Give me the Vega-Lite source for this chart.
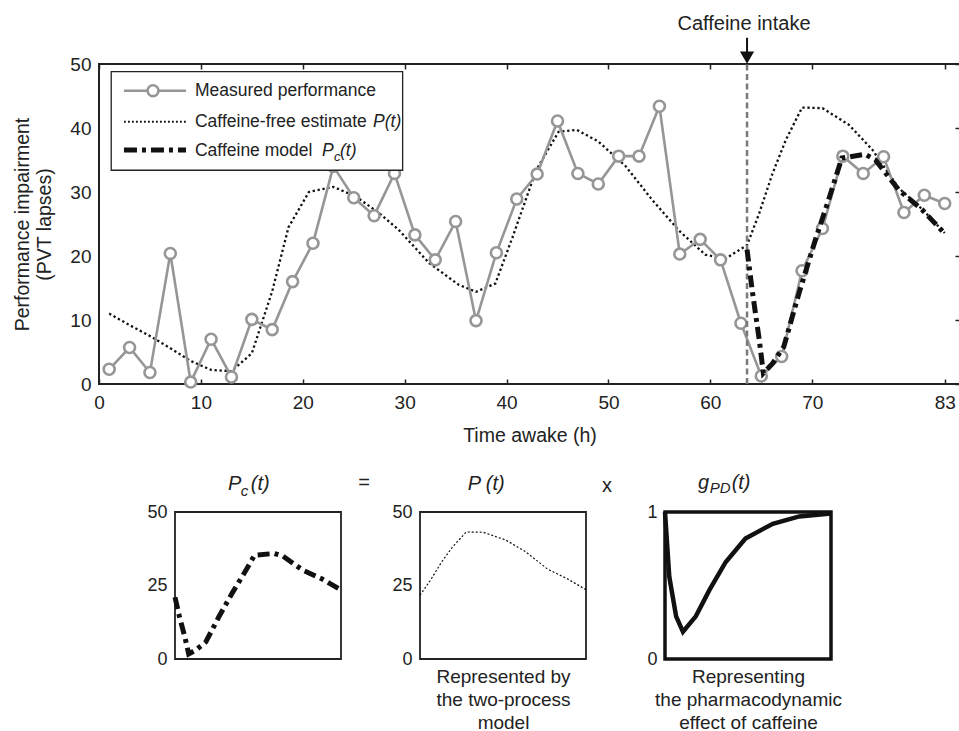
{
  "$schema": "https://vega.github.io/schema/vega-lite/v6.json",
  "padding": {"left": 11, "top": 12, "right": 0, "bottom": 0},
  "config": {
    "font": "Liberation Sans",
    "view": {"stroke": "#222", "strokeWidth": 1.8},
    "axis": {"labelFont": "Liberation Sans", "labelColor": "#222", "titleFont": "Liberation Sans", "titleColor": "#222", "titleFontWeight": "normal", "grid": false, "tickColor": "#222", "tickWidth": 1.5, "labelFlush": false},
    "text": {"font": "Liberation Sans", "color": "#222"}
  },
  "datasets": {
    "measured": [
      {"t": 1, "v": 2.3}, {"t": 3, "v": 5.7}, {"t": 5, "v": 1.8}, {"t": 7, "v": 20.4}, {"t": 9, "v": 0.3},
      {"t": 11, "v": 7.0}, {"t": 13, "v": 1.1}, {"t": 15, "v": 10.1}, {"t": 17, "v": 8.5}, {"t": 19, "v": 16.0},
      {"t": 21, "v": 22.0}, {"t": 23, "v": 34.0}, {"t": 25, "v": 29.1}, {"t": 27, "v": 26.3}, {"t": 29, "v": 32.9},
      {"t": 31, "v": 23.3}, {"t": 33, "v": 19.4}, {"t": 35, "v": 25.4}, {"t": 37, "v": 9.9}, {"t": 39, "v": 20.5},
      {"t": 41, "v": 28.9}, {"t": 43, "v": 32.8}, {"t": 45, "v": 41.1}, {"t": 47, "v": 32.9}, {"t": 49, "v": 31.25},
      {"t": 51, "v": 35.6}, {"t": 53, "v": 35.6}, {"t": 55, "v": 43.4}, {"t": 57, "v": 20.3}, {"t": 59, "v": 22.6},
      {"t": 61, "v": 19.4}, {"t": 63, "v": 9.5}, {"t": 65, "v": 1.25}, {"t": 67, "v": 4.3}, {"t": 69, "v": 17.7},
      {"t": 71, "v": 24.3}, {"t": 73, "v": 35.6}, {"t": 75, "v": 32.9}, {"t": 77, "v": 35.5}, {"t": 79, "v": 26.8},
      {"t": 81, "v": 29.5}, {"t": 83, "v": 28.2}
    ],
    "pfree": [
      {"t": 1, "v": 11.0}, {"t": 3, "v": 9.2}, {"t": 5, "v": 7.5}, {"t": 7, "v": 5.6}, {"t": 9, "v": 3.6},
      {"t": 11, "v": 2.2}, {"t": 13, "v": 2.0}, {"t": 15, "v": 4.8}, {"t": 17, "v": 14.5}, {"t": 18.6, "v": 24.5},
      {"t": 20.6, "v": 30.0}, {"t": 23, "v": 30.8}, {"t": 25.2, "v": 29.3}, {"t": 27.5, "v": 26.7}, {"t": 29.4, "v": 24.1},
      {"t": 32.4, "v": 18.9}, {"t": 35.3, "v": 15.5}, {"t": 37, "v": 14.4}, {"t": 38.9, "v": 15.7}, {"t": 40.6, "v": 23.0},
      {"t": 42.9, "v": 33.4}, {"t": 45.1, "v": 39.4}, {"t": 46.9, "v": 39.7}, {"t": 49, "v": 37.9}, {"t": 51.7, "v": 34.0},
      {"t": 54.3, "v": 28.75}, {"t": 56.9, "v": 24.0}, {"t": 59.5, "v": 20.2}, {"t": 61.5, "v": 19.6}, {"t": 63.6, "v": 21.7},
      {"t": 64.8, "v": 26.7}, {"t": 66.1, "v": 32.9}, {"t": 67.4, "v": 38.1}, {"t": 69, "v": 43.2}, {"t": 71, "v": 43.1},
      {"t": 73.6, "v": 40.5}, {"t": 75.9, "v": 36.6}, {"t": 78.5, "v": 30.6}, {"t": 80.8, "v": 27.3}, {"t": 83, "v": 23.6}
    ],
    "model": [
      {"t": 63.6, "v": 21.0}, {"t": 64.1, "v": 14.7}, {"t": 64.8, "v": 6.9}, {"t": 65.2, "v": 1.7}, {"t": 66.1, "v": 3.2},
      {"t": 67.2, "v": 5.8}, {"t": 68.7, "v": 14.2}, {"t": 70.3, "v": 22.5}, {"t": 71.6, "v": 28.75}, {"t": 72.9, "v": 35.3},
      {"t": 75.2, "v": 35.9}, {"t": 76.2, "v": 35.0}, {"t": 78.5, "v": 30.3}, {"t": 80.8, "v": 27.2}, {"t": 83, "v": 23.5}
    ],
    "gpd": [
      {"t": 63.6, "v": 1.0}, {"t": 64.1, "v": 0.56}, {"t": 64.9, "v": 0.29}, {"t": 65.7, "v": 0.185}, {"t": 67.2, "v": 0.29},
      {"t": 68.8, "v": 0.47}, {"t": 70.7, "v": 0.66}, {"t": 73.0, "v": 0.82}, {"t": 76.2, "v": 0.92}, {"t": 79.3, "v": 0.97},
      {"t": 83, "v": 0.99}
    ]
  },
  "spacing": 128,
  "bounds": "flush",
  "vconcat": [
    {
      "width": 861,
      "height": 320,
      "view": {"stroke": "#222", "strokeWidth": 2},
      "resolve": {"axis": {"x": "independent", "y": "independent"}},
      "layer": [
        {
          "data": {"name": "pfree"},
          "mark": {"type": "line", "color": "#111", "strokeWidth": 2.3, "strokeDash": [2.3, 2.7]},
          "encoding": {
            "x": {"field": "t", "type": "quantitative", "scale": {"domain": [0, 84.5], "nice": false},
                  "axis": {"orient": "bottom", "values": [0, 10, 20, 30, 40, 50, 60, 70, 83], "domain": false, "tickSize": -5, "labelPadding": 14, "labelFontSize": 19, "title": "Time awake (h)", "titleFontSize": 19.5, "titlePadding": 14}},
            "y": {"field": "v", "type": "quantitative", "scale": {"domain": [0, 50], "nice": false},
                  "axis": {"orient": "left", "values": [0, 10, 20, 30, 40, 50], "domain": false, "ticks": false, "labelPadding": 8, "labelFontSize": 19, "title": ["Performance impairment", "(PVT lapses)"], "titleFontSize": 19.5, "titleLineHeight": 22, "titlePadding": 15}}
          }
        },
        {
          "data": {"name": "measured"},
          "mark": {"type": "line", "color": "#969696", "strokeWidth": 2.6},
          "encoding": {
            "x": {"field": "t", "type": "quantitative", "scale": {"domain": [0, 84.5], "nice": false},
                  "axis": {"orient": "top", "values": [0, 10, 20, 30, 40, 50, 60, 70, 83], "domain": false, "labels": false, "tickSize": -5, "title": null}},
            "y": {"field": "v", "type": "quantitative", "scale": {"domain": [0, 50], "nice": false},
                  "axis": {"orient": "right", "values": [0, 10, 20, 30, 40, 50], "domain": false, "labels": false, "tickSize": -5, "title": null}}
          }
        },
        {
          "data": {"name": "measured"},
          "mark": {"type": "point", "shape": "circle", "filled": true, "fill": "white", "stroke": "#969696", "strokeWidth": 2.6, "size": 120, "opacity": 1},
          "encoding": {
            "x": {"field": "t", "type": "quantitative", "scale": {"domain": [0, 84.5], "nice": false}, "axis": null},
            "y": {"field": "v", "type": "quantitative", "scale": {"domain": [0, 50], "nice": false}, "axis": null}
          }
        },
        {
          "data": {"values": [{}]},
          "mark": {"type": "rule", "color": "#7a7a7a", "strokeWidth": 2.5, "strokeDash": [6, 3.5]},
          "encoding": {
            "x": {"datum": 63.6, "type": "quantitative", "scale": {"domain": [0, 84.5], "nice": false}, "axis": null},
            "y": {"datum": 0, "type": "quantitative", "scale": {"domain": [0, 50], "nice": false}, "axis": null},
            "y2": {"datum": 50}
          }
        },
        {
          "data": {"name": "model"},
          "mark": {"type": "line", "color": "#111", "strokeWidth": 5, "strokeDash": [12, 5, 4, 5]},
          "encoding": {
            "x": {"field": "t", "type": "quantitative", "scale": {"domain": [0, 84.5], "nice": false}, "axis": null},
            "y": {"field": "v", "type": "quantitative", "scale": {"domain": [0, 50], "nice": false}, "axis": null}
          }
        },
        {
          "data": {"values": [{}]},
          "mark": {"type": "rule", "color": "#111", "strokeWidth": 2},
          "encoding": {
            "x": {"datum": 63.6, "type": "quantitative", "scale": {"domain": [0, 84.5], "nice": false}, "axis": null},
            "y": {"datum": 54.1, "type": "quantitative", "scale": {"domain": [0, 50], "nice": false}, "axis": null},
            "y2": {"datum": 51.5}
          }
        },
        {
          "data": {"values": [{}]},
          "mark": {"type": "point", "shape": "triangle-down", "filled": true, "color": "#111", "size": 200, "opacity": 1},
          "encoding": {
            "x": {"datum": 63.6, "type": "quantitative", "scale": {"domain": [0, 84.5], "nice": false}, "axis": null},
            "y": {"datum": 51.0, "type": "quantitative", "scale": {"domain": [0, 50], "nice": false}, "axis": null}
          }
        },
        {
          "data": {"values": [{}]},
          "mark": {"type": "text", "text": "Caffeine intake", "fontSize": 20, "align": "center", "baseline": "alphabetic"},
          "encoding": {
            "x": {"datum": 63.3, "type": "quantitative", "scale": {"domain": [0, 84.5], "nice": false}, "axis": null},
            "y": {"datum": 55.39, "type": "quantitative", "scale": {"domain": [0, 50], "nice": false}, "axis": null}
          }
        },
        {
          "data": {"values": [{}]},
          "mark": {"type": "rect", "fill": "white", "stroke": "#222", "strokeWidth": 1.3},
          "encoding": {
            "x": {"datum": 1.2, "type": "quantitative", "scale": {"domain": [0, 84.5], "nice": false}, "axis": null},
            "x2": {"datum": 29.8},
            "y": {"datum": 48.8, "type": "quantitative", "scale": {"domain": [0, 50], "nice": false}, "axis": null},
            "y2": {"datum": 33.4}
          }
        },
        {
          "data": {"values": [{}]},
          "mark": {"type": "rule", "color": "#969696", "strokeWidth": 2.6},
          "encoding": {
            "x": {"datum": 2.45, "type": "quantitative", "scale": {"domain": [0, 84.5], "nice": false}, "axis": null},
            "x2": {"datum": 8.54},
            "y": {"datum": 45.83, "type": "quantitative", "scale": {"domain": [0, 50], "nice": false}, "axis": null}
          }
        },
        {
          "data": {"values": [{}]},
          "mark": {"type": "point", "shape": "circle", "filled": true, "fill": "white", "stroke": "#969696", "strokeWidth": 2.6, "size": 120, "opacity": 1},
          "encoding": {
            "x": {"datum": 5.3, "type": "quantitative", "scale": {"domain": [0, 84.5], "nice": false}, "axis": null},
            "y": {"datum": 45.83, "type": "quantitative", "scale": {"domain": [0, 50], "nice": false}, "axis": null}
          }
        },
        {
          "data": {"values": [{}]},
          "mark": {"type": "rule", "color": "#111", "strokeWidth": 1.8, "strokeDash": [1.8, 2.2]},
          "encoding": {
            "x": {"datum": 2.45, "type": "quantitative", "scale": {"domain": [0, 84.5], "nice": false}, "axis": null},
            "x2": {"datum": 8.54},
            "y": {"datum": 40.98, "type": "quantitative", "scale": {"domain": [0, 50], "nice": false}, "axis": null}
          }
        },
        {
          "data": {"values": [{}]},
          "mark": {"type": "rule", "color": "#111", "strokeWidth": 5, "strokeDash": [13, 5, 4, 5]},
          "encoding": {
            "x": {"datum": 2.45, "type": "quantitative", "scale": {"domain": [0, 84.5], "nice": false}, "axis": null},
            "x2": {"datum": 8.54},
            "y": {"datum": 36.56, "type": "quantitative", "scale": {"domain": [0, 50], "nice": false}, "axis": null}
          }
        },
        {
          "data": {"values": [{}]},
          "mark": {"type": "text", "text": "Measured performance", "fontSize": 17.5, "align": "left", "baseline": "alphabetic"},
          "encoding": {
            "x": {"datum": 9.42, "type": "quantitative", "scale": {"domain": [0, 84.5], "nice": false}, "axis": null},
            "y": {"datum": 45.0, "type": "quantitative", "scale": {"domain": [0, 50], "nice": false}, "axis": null}
          }
        },
        {
          "data": {"values": [{}]},
          "mark": {"type": "text", "text": "Caffeine-free estimate", "fontSize": 17.5, "align": "left", "baseline": "alphabetic"},
          "encoding": {
            "x": {"datum": 9.42, "type": "quantitative", "scale": {"domain": [0, 84.5], "nice": false}, "axis": null},
            "y": {"datum": 40.08, "type": "quantitative", "scale": {"domain": [0, 50], "nice": false}, "axis": null}
          }
        },
        {
          "data": {"values": [{}]},
          "mark": {"type": "text", "text": "P(t)", "fontSize": 17.5, "fontStyle": "italic", "align": "left", "baseline": "alphabetic"},
          "encoding": {
            "x": {"datum": 26.9, "type": "quantitative", "scale": {"domain": [0, 84.5], "nice": false}, "axis": null},
            "y": {"datum": 40.08, "type": "quantitative", "scale": {"domain": [0, 50], "nice": false}, "axis": null}
          }
        },
        {
          "data": {"values": [{}]},
          "mark": {"type": "text", "text": "Caffeine model", "fontSize": 17.5, "align": "left", "baseline": "alphabetic"},
          "encoding": {
            "x": {"datum": 9.42, "type": "quantitative", "scale": {"domain": [0, 84.5], "nice": false}, "axis": null},
            "y": {"datum": 35.6, "type": "quantitative", "scale": {"domain": [0, 50], "nice": false}, "axis": null}
          }
        },
        {
          "data": {"values": [{}]},
          "mark": {"type": "text", "text": "P", "fontSize": 17.5, "fontStyle": "italic", "align": "left", "baseline": "alphabetic"},
          "encoding": {
            "x": {"datum": 21.88, "type": "quantitative", "scale": {"domain": [0, 84.5], "nice": false}, "axis": null},
            "y": {"datum": 35.6, "type": "quantitative", "scale": {"domain": [0, 50], "nice": false}, "axis": null}
          }
        },
        {
          "data": {"values": [{}]},
          "mark": {"type": "text", "text": "c", "fontSize": 13, "fontStyle": "italic", "align": "left", "baseline": "alphabetic"},
          "encoding": {
            "x": {"datum": 23.06, "type": "quantitative", "scale": {"domain": [0, 84.5], "nice": false}, "axis": null},
            "y": {"datum": 34.8, "type": "quantitative", "scale": {"domain": [0, 50], "nice": false}, "axis": null}
          }
        },
        {
          "data": {"values": [{}]},
          "mark": {"type": "text", "text": "(t)", "fontSize": 17.5, "fontStyle": "italic", "align": "left", "baseline": "alphabetic"},
          "encoding": {
            "x": {"datum": 23.65, "type": "quantitative", "scale": {"domain": [0, 84.5], "nice": false}, "axis": null},
            "y": {"datum": 35.6, "type": "quantitative", "scale": {"domain": [0, 50], "nice": false}, "axis": null}
          }
        }
      ]
    },
    {
      "spacing": 0,
      "bounds": "flush",
      "hconcat": [
        {
          "width": 76,
          "height": 147,
          "view": {"stroke": null},
          "data": {"values": [{}]},
          "mark": {"type": "text", "text": ""},
          "encoding": {}
        },
        {
          "spacing": 79,
          "bounds": "flush",
          "hconcat": [
            {
              "width": 166,
              "height": 147,
              "view": {"stroke": "#222", "strokeWidth": 1.8},
              "resolve": {"axis": {"x": "independent", "y": "independent"}},
              "layer": [
                {
                  "data": {"name": "model"},
                  "mark": {"type": "line", "color": "#111", "strokeWidth": 5, "strokeDash": [12, 5, 4, 5]},
                  "encoding": {
                    "x": {"field": "t", "type": "quantitative", "scale": {"domain": [63.6, 83], "nice": false}, "axis": null},
                    "y": {"field": "v", "type": "quantitative", "scale": {"domain": [0, 50], "nice": false},
                          "axis": {"values": [0, 25, 50], "ticks": false, "domain": false, "labelPadding": 8, "labelFontSize": 18, "title": null}}
                  }
                },
                {
                  "data": {"values": [{}]},
                  "mark": {"type": "text", "text": "P", "fontSize": 20, "fontStyle": "italic", "align": "left", "baseline": "alphabetic"},
                  "encoding": {
                    "x": {"datum": 69.79, "type": "quantitative", "scale": {"domain": [63.6, 83], "nice": false}, "axis": null},
                    "y": {"datum": 57.5, "type": "quantitative", "scale": {"domain": [0, 50], "nice": false}, "axis": null}
                  }
                },
                {
                  "data": {"values": [{}]},
                  "mark": {"type": "text", "text": "c", "fontSize": 15, "fontStyle": "italic", "align": "left", "baseline": "alphabetic"},
                  "encoding": {
                    "x": {"datum": 71.28, "type": "quantitative", "scale": {"domain": [63.6, 83], "nice": false}, "axis": null},
                    "y": {"datum": 55.44, "type": "quantitative", "scale": {"domain": [0, 50], "nice": false}, "axis": null}
                  }
                },
                {
                  "data": {"values": [{}]},
                  "mark": {"type": "text", "text": "(t)", "fontSize": 20, "fontStyle": "italic", "align": "left", "baseline": "alphabetic"},
                  "encoding": {
                    "x": {"datum": 72.45, "type": "quantitative", "scale": {"domain": [63.6, 83], "nice": false}, "axis": null},
                    "y": {"datum": 57.5, "type": "quantitative", "scale": {"domain": [0, 50], "nice": false}, "axis": null}
                  }
                },
                {
                  "data": {"values": [{}]},
                  "mark": {"type": "text", "text": "=", "fontSize": 20, "align": "center", "baseline": "alphabetic"},
                  "encoding": {
                    "x": {"datum": 85.69, "type": "quantitative", "scale": {"domain": [63.6, 83], "nice": false}, "axis": null},
                    "y": {"datum": 57.7, "type": "quantitative", "scale": {"domain": [0, 50], "nice": false}, "axis": null}
                  }
                }
              ]
            },
            {
              "width": 166,
              "height": 147,
              "view": {"stroke": "#222", "strokeWidth": 1.8},
              "resolve": {"axis": {"x": "independent", "y": "independent"}},
              "layer": [
                {
                  "data": {"name": "pfree"},
                  "transform": [{"filter": "datum.t >= 63.5"}],
                  "mark": {"type": "line", "color": "#111", "strokeWidth": 1.2, "strokeDash": [2, 2]},
                  "encoding": {
                    "x": {"field": "t", "type": "quantitative", "scale": {"domain": [63.6, 83], "nice": false},
                          "axis": {"orient": "bottom", "labels": false, "ticks": false, "domain": false, "title": ["Represented by", "the two-process", "model"], "titleFontSize": 19, "titleLineHeight": 23, "titlePadding": 8}},
                    "y": {"field": "v", "type": "quantitative", "scale": {"domain": [0, 50], "nice": false},
                          "axis": {"values": [0, 25, 50], "ticks": false, "domain": false, "labelPadding": 8, "labelFontSize": 18, "title": null}}
                  }
                },
                {
                  "data": {"values": [{}]},
                  "mark": {"type": "text", "text": "P (t)", "fontSize": 20, "fontStyle": "italic", "align": "left", "baseline": "alphabetic"},
                  "encoding": {
                    "x": {"datum": 69.17, "type": "quantitative", "scale": {"domain": [63.6, 83], "nice": false}, "axis": null},
                    "y": {"datum": 57.5, "type": "quantitative", "scale": {"domain": [0, 50], "nice": false}, "axis": null}
                  }
                }
              ]
            },
            {
              "width": 166,
              "height": 147,
              "view": {"stroke": "#111", "strokeWidth": 3.5},
              "resolve": {"axis": {"x": "independent", "y": "independent"}},
              "layer": [
                {
                  "data": {"name": "gpd"},
                  "mark": {"type": "line", "color": "#111", "strokeWidth": 4.5},
                  "encoding": {
                    "x": {"field": "t", "type": "quantitative", "scale": {"domain": [63.6, 83], "nice": false},
                          "axis": {"orient": "bottom", "labels": false, "ticks": false, "domain": false, "title": ["Representing", "the pharmacodynamic", "effect of caffeine"], "titleFontSize": 19, "titleLineHeight": 23, "titlePadding": 8}},
                    "y": {"field": "v", "type": "quantitative", "scale": {"domain": [0, 1], "nice": false},
                          "axis": {"values": [0, 1], "format": "d", "ticks": false, "domain": false, "labelPadding": 8, "labelFontSize": 18, "title": null}}
                  }
                },
                {
                  "data": {"values": [{}]},
                  "mark": {"type": "text", "text": "g", "fontSize": 20, "fontStyle": "italic", "align": "left", "baseline": "alphabetic"},
                  "encoding": {
                    "x": {"datum": 67.46, "type": "quantitative", "scale": {"domain": [63.6, 83], "nice": false}, "axis": null},
                    "y": {"datum": 1.156, "type": "quantitative", "scale": {"domain": [0, 1], "nice": false}, "axis": null}
                  }
                },
                {
                  "data": {"values": [{}]},
                  "mark": {"type": "text", "text": "PD", "fontSize": 15, "fontStyle": "italic", "align": "left", "baseline": "alphabetic"},
                  "encoding": {
                    "x": {"datum": 68.82, "type": "quantitative", "scale": {"domain": [63.6, 83], "nice": false}, "axis": null},
                    "y": {"datum": 1.129, "type": "quantitative", "scale": {"domain": [0, 1], "nice": false}, "axis": null}
                  }
                },
                {
                  "data": {"values": [{}]},
                  "mark": {"type": "text", "text": "(t)", "fontSize": 20, "fontStyle": "italic", "align": "left", "baseline": "alphabetic"},
                  "encoding": {
                    "x": {"datum": 71.39, "type": "quantitative", "scale": {"domain": [63.6, 83], "nice": false}, "axis": null},
                    "y": {"datum": 1.156, "type": "quantitative", "scale": {"domain": [0, 1], "nice": false}, "axis": null}
                  }
                },
                {
                  "data": {"values": [{}]},
                  "mark": {"type": "text", "text": "x", "fontSize": 20, "align": "center", "baseline": "alphabetic"},
                  "encoding": {
                    "x": {"datum": 56.82, "type": "quantitative", "scale": {"domain": [63.6, 83], "nice": false}, "axis": null},
                    "y": {"datum": 1.137, "type": "quantitative", "scale": {"domain": [0, 1], "nice": false}, "axis": null}
                  }
                }
              ]
            }
          ]
        }
      ]
    }
  ]
}
